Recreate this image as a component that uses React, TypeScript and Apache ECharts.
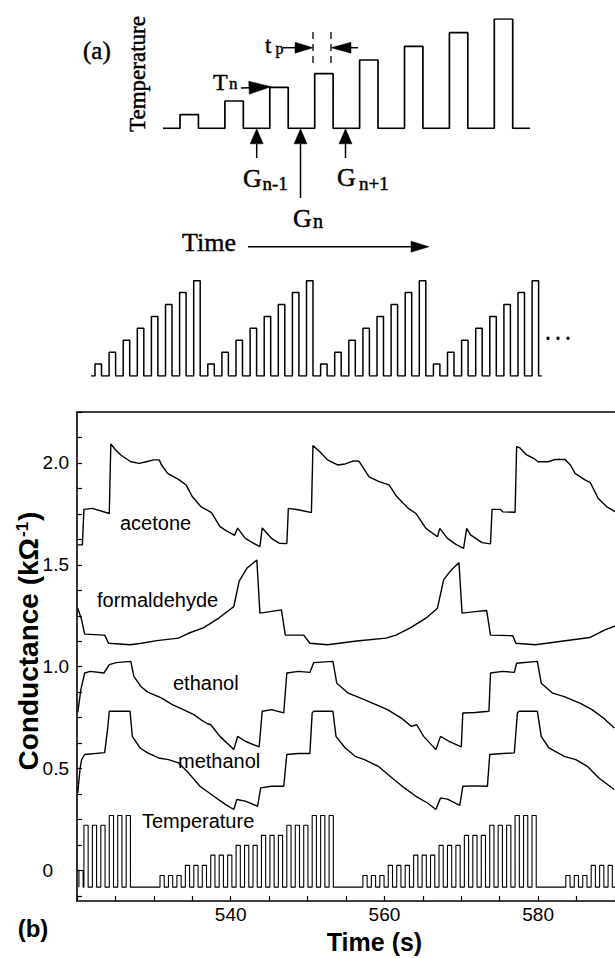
import React, { useEffect, useRef } from 'react';
import * as echarts from 'echarts';

// ---------- panel (b) axes ----------
const timeMin = 520;
const timeMax = 590;
const xTickLabels = [540, 560, 580];
const yTickLabels = [0, 0.5, 1.0, 1.5, 2.0];

// ---------- panel (b) conductance traces [time s, kΩ^-1] ----------
const acetone = [
  [520.1, 1.598], [520.7, 1.598], [520.9, 1.772], [522.0, 1.777], [524.2, 1.752], [524.4, 2.093],
  [525.0, 2.065], [525.7, 2.039], [527.0, 2.006], [528.1, 1.998], [529.0, 2.006], [530.0, 2.015],
  [530.7, 2.015], [531.0, 1.99], [531.8, 1.949], [533.3, 1.917], [534.2, 1.892], [535.0, 1.835],
  [536.1, 1.786], [537.5, 1.756], [538.6, 1.687], [539.5, 1.665], [540.5, 1.645], [540.9, 1.68],
  [541.9, 1.63], [543.0, 1.605], [543.8, 1.589], [544.1, 1.681], [545.3, 1.63], [546.3, 1.606],
  [547.3, 1.604], [547.5, 1.777], [548.8, 1.77], [550.5, 1.756], [550.7, 2.085], [551.6, 2.055],
  [552.6, 2.015], [553.9, 1.99], [554.9, 1.995], [556.0, 2.01], [556.7, 2.008], [558.0, 1.932],
  [559.3, 1.908], [560.6, 1.892], [561.6, 1.835], [563.1, 1.777], [564.1, 1.752], [565.4, 1.679],
  [566.9, 1.638], [567.2, 1.679], [568.2, 1.63], [569.3, 1.6], [570.3, 1.581], [570.7, 1.679],
  [571.2, 1.647], [572.7, 1.609], [573.8, 1.603], [574.0, 1.772], [575.1, 1.772], [575.4, 1.76],
  [577.0, 1.758], [577.2, 2.08], [577.6, 2.075], [578.5, 2.039], [579.4, 2.023], [580.0, 2.006],
  [581.3, 2.006], [582.2, 2.017], [583.5, 2.017], [584.2, 1.99], [584.8, 1.949], [586.1, 1.917],
  [586.8, 1.903], [587.8, 1.827], [588.9, 1.786], [590.0, 1.761],
];
const formaldehyde = [
  [520.1, 1.287], [520.6, 1.23], [521.0, 1.16], [523.6, 1.155], [524.1, 1.115], [526.9, 1.108],
  [528.4, 1.115], [530.4, 1.128], [533.2, 1.14], [534.5, 1.164], [536.5, 1.192], [538.5, 1.24],
  [540.4, 1.295], [541.1, 1.42], [542.1, 1.483], [543.4, 1.524], [543.8, 1.263], [545.1, 1.27],
  [546.6, 1.279], [547.1, 1.155], [549.5, 1.155], [550.3, 1.115], [552.6, 1.108], [554.1, 1.115],
  [556.4, 1.126], [560.2, 1.14], [561.5, 1.155], [563.3, 1.189], [565.4, 1.238], [566.9, 1.287],
  [567.7, 1.426], [568.7, 1.475], [569.7, 1.511], [570.1, 1.263], [571.8, 1.27], [573.3, 1.276],
  [573.8, 1.155], [576.7, 1.152], [577.1, 1.115], [579.6, 1.108], [581.1, 1.115], [586.7, 1.143],
  [588.7, 1.181], [590.0, 1.2],
];
const ethanol = [
  [520.1, 0.775], [520.5, 0.887], [521.0, 0.969], [521.7, 0.977], [523.5, 0.969], [524.2, 1.01],
  [525.1, 1.02], [527.0, 1.026], [527.4, 0.952], [528.3, 0.903], [529.2, 0.875], [530.9, 0.848],
  [532.4, 0.814], [533.7, 0.792], [535.2, 0.765], [536.3, 0.735], [537.0, 0.72], [537.4, 0.715],
  [538.6, 0.658], [540.4, 0.593], [540.9, 0.658], [541.9, 0.634], [543.7, 0.606], [544.1, 0.781],
  [545.3, 0.789], [546.9, 0.773], [547.3, 0.969], [548.8, 0.977], [550.3, 0.972], [550.8, 1.02],
  [553.3, 1.026], [553.8, 0.919], [555.3, 0.87], [556.9, 0.846], [558.9, 0.814], [560.4, 0.789],
  [562.2, 0.748], [563.5, 0.707], [564.2, 0.715], [565.1, 0.658], [566.7, 0.593], [567.3, 0.658],
  [568.4, 0.634], [570.0, 0.606], [570.2, 0.773], [571.8, 0.775], [573.6, 0.781], [573.8, 0.969],
  [575.4, 0.977], [576.9, 0.972], [577.2, 1.017], [579.9, 1.026], [580.4, 0.919], [581.9, 0.87],
  [583.4, 0.853], [585.5, 0.82], [587.0, 0.789], [588.5, 0.748], [589.9, 0.699],
];
const methanol = [
  [520.1, 0.38], [520.4, 0.5], [520.6, 0.544], [521.0, 0.569], [523.6, 0.578], [524.0, 0.7],
  [524.2, 0.781], [526.9, 0.781], [527.2, 0.658], [528.2, 0.601], [529.2, 0.577], [530.6, 0.552],
  [531.9, 0.544], [533.2, 0.528], [534.5, 0.479], [536.0, 0.413], [537.8, 0.364], [539.3, 0.324],
  [540.4, 0.299], [540.8, 0.348], [541.9, 0.34], [543.5, 0.315], [543.9, 0.405], [545.3, 0.413],
  [546.9, 0.413], [547.3, 0.569], [548.8, 0.574], [550.3, 0.574], [550.6, 0.773], [550.8, 0.781],
  [553.3, 0.781], [553.7, 0.658], [554.9, 0.601], [556.2, 0.56], [557.4, 0.544], [559.2, 0.511],
  [561.0, 0.454], [562.6, 0.405], [564.1, 0.364], [565.6, 0.331], [566.7, 0.299], [567.3, 0.356],
  [568.2, 0.35], [569.8, 0.319], [570.2, 0.413], [571.8, 0.415], [573.4, 0.413], [573.7, 0.569],
  [575.4, 0.574], [576.9, 0.577], [577.3, 0.773], [577.5, 0.781], [579.9, 0.781], [580.4, 0.658],
  [581.4, 0.601], [583.4, 0.56], [584.9, 0.544], [586.4, 0.511], [587.9, 0.454], [589.9, 0.397],
];

// ---------- panel (b) temperature programme ----------
const tempBase = -0.082;
const tempLead = [520.25, 520.8, 0.0]; // partial pulse at the start of the record: on, off, level
const tempLevels = [-0.025, 0.025, 0.075, 0.123, 0.172, 0.222, 0.27];
const slotOneStarts = [504.4, 530.8, 557.2, 583.6];
const slotLength = 3.3;
const pulsePeriod = 1.1;
const pulseOn = 0.55;
const pulsesPerSlot = 3;

// ---------- panel (a) schematic ----------
const schematicLevels = [1, 2, 3, 4, 5, 6, 7, 8];
const schematicPulseWidth = 0.41;
const schematicRange = [-0.379, 7.795];
const trainLevels = [1, 2, 3, 4, 5, 6, 7, 8];
const trainCycles = 4;
const trainPulseWidth = 0.46;
const trainRange = [-0.284, 31.68];

function buildTemperature() {
  const pts: number[][] = [
    [tempLead[0], tempBase], [tempLead[0], tempLead[2]], [tempLead[1], tempLead[2]], [tempLead[1], tempBase],
  ];
  for (const s1 of slotOneStarts) {
    tempLevels.forEach((lvl, k) => {
      const slotStart = s1 + k * slotLength;
      for (let i = 0; i < pulsesPerSlot; i++) {
        const on = slotStart + i * pulsePeriod;
        const off = on + pulseOn;
        if (on < tempLead[1] || on > timeMax) continue;
        pts.push([on, tempBase], [on, lvl], [off, lvl], [off, tempBase]);
      }
    });
  }
  pts.push([timeMax, tempBase]);
  return pts;
}

function buildSquare(levels: number[], repeats: number, width: number, range: number[]) {
  const pts: number[][] = [[range[0], 0]];
  let k = 0;
  for (let r = 0; r < repeats; r++) {
    for (const lvl of levels) {
      pts.push([k, 0], [k, lvl], [k + width, lvl], [k + width, 0]);
      k++;
    }
  }
  pts.push([range[1], 0]);
  return pts;
}

const SERIF = 'Liberation Serif, Times New Roman, serif';
const SANS = 'Liberation Sans, Arial, Helvetica, sans-serif';

function txt(x: number, y: number, text: string, size: number, family: string, opts: any = {}) {
  return {
    type: 'text',
    x,
    y,
    rotation: opts.rotation || 0,
    silent: true,
    style: {
      text,
      fontSize: size,
      fontFamily: family,
      fontWeight: opts.bold ? 'bold' : 'normal',
      fill: '#000',
      stroke: opts.heavy ? '#000' : undefined,
      lineWidth: opts.heavy ? 0.45 : 0,
      align: opts.align || 'left',
      textAlign: opts.align || 'left',
      verticalAlign: 'middle',
      textVerticalAlign: 'middle',
      rich: opts.rich,
    },
  };
}

function arrow(x1: number, y1: number, x2: number, y2: number, hl: number, hw: number) {
  const dx = x2 - x1;
  const dy = y2 - y1;
  const L = Math.hypot(dx, dy);
  const ux = dx / L;
  const uy = dy / L;
  const bx = x2 - ux * hl;
  const by = y2 - uy * hl;
  const px = -uy * hw;
  const py = ux * hw;
  return [
    { type: 'line', silent: true, shape: { x1, y1, x2: bx, y2: by }, style: { stroke: '#000', lineWidth: 1.5 } },
    {
      type: 'polygon',
      silent: true,
      shape: { points: [[x2, y2], [bx + px, by + py], [bx - px, by - py]] },
      style: { fill: '#000', stroke: '#000', lineWidth: 0.5 },
    },
  ];
}

export default function App() {
  const ref = useRef<HTMLDivElement>(null);

  useEffect(() => {
    if (!ref.current) return;
    const chart = echarts.init(ref.current, undefined, { renderer: 'svg' });
    const curve = (name: string, data: number[][], width = 1.4) => ({
      name,
      type: 'line',
      xAxisIndex: 0,
      yAxisIndex: 0,
      data,
      showSymbol: false,
      symbol: 'none',
      lineStyle: { color: '#000', width },
      silent: true,
    });

    const yTicks: number[] = [];
    for (let v = -0.125; v <= 2.25 + 1e-9; v += 0.125) yTicks.push(+v.toFixed(3));
    const xTicks: number[] = [];
    for (let t = timeMin; t <= timeMax; t += 5) xTicks.push(t);

    const H = { heavy: true };
    const graphic: any[] = [
      // panel (a)
      txt(83, 50, '(a)', 25, SERIF, H),
      txt(137.5, 74, 'Temperature', 23, SERIF, { align: 'center', rotation: Math.PI / 2, heavy: true }),
      txt(265, 45.5, 't', 23, SERIF, H),
      txt(275.5, 48.7, 'p', 16, SERIF, H),
      txt(213, 81.8, 'T', 24, SERIF, H),
      txt(229, 83.7, 'n', 17, SERIF, H),
      txt(243, 178, 'G', 26, SERIF, H),
      txt(262.5, 183.5, 'n-1', 19, SERIF, H),
      txt(293, 218, 'G', 26, SERIF, H),
      txt(313, 220.7, 'n', 20, SERIF, H),
      txt(337, 177, 'G', 26, SERIF, H),
      txt(359, 183.5, 'n+1', 19, SERIF, H),
      txt(182, 242.7, 'Time', 26, SERIF, H),
      ...arrow(283, 47.7, 313, 47.7, 18, 5.5),
      ...arrow(358, 47.7, 331, 47.7, 20, 5.5),
      ...arrow(241, 88, 271, 86.7, 22, 6.5),
      ...arrow(256.7, 158, 256.7, 128.8, 15, 6.5),
      ...arrow(300.5, 198, 300.5, 128.8, 15, 6.5),
      ...arrow(345.5, 158, 345.5, 128.8, 15, 6.5),
      ...arrow(248, 246.7, 429, 246.7, 18, 5.5),
      { type: 'line', silent: true, shape: { x1: 313, y1: 32, x2: 313, y2: 67 }, style: { stroke: '#000', lineWidth: 1.3, lineDash: [7, 5] } },
      { type: 'line', silent: true, shape: { x1: 331, y1: 32, x2: 331, y2: 67 }, style: { stroke: '#000', lineWidth: 1.3, lineDash: [7, 5] } },
      { type: 'circle', silent: true, shape: { cx: 548, cy: 338.3, r: 1.7 }, style: { fill: '#000' } },
      { type: 'circle', silent: true, shape: { cx: 558, cy: 338.3, r: 1.7 }, style: { fill: '#000' } },
      { type: 'circle', silent: true, shape: { cx: 568, cy: 338.3, r: 1.7 }, style: { fill: '#000' } },
      // panel (b) labels
      txt(120, 523, 'acetone', 20, SANS),
      txt(97, 600, 'formaldehyde', 20, SANS),
      txt(173, 683, 'ethanol', 20, SANS),
      txt(178, 761, 'methanol', 20, SANS),
      txt(142, 821.3, 'Temperature', 20, SANS),
      txt(374.5, 942.3, 'Time (s)', 25, SANS, { align: 'center', bold: true }),
      txt(33, 928, '(b)', 24, SANS, { align: 'center', bold: true }),
      txt(28, 641, 'Conductance (kΩ{sup|-1})', 28, SANS, {
        align: 'center',
        bold: true,
        rotation: Math.PI / 2,
        rich: { sup: { fontSize: 17, fontWeight: 'bold', fontFamily: SANS, fill: '#000', verticalAlign: 'top', padding: [0, 1, 10, 1] } },
      }),
    ];

    chart.setOption({
      animation: false,
      backgroundColor: '#fff',
      grid: [
        { left: 77, top: 412, width: 538, height: 489 },
        { left: 163, top: 19, width: 367, height: 109.3 },
        { left: 91, top: 280.7, width: 450.7, height: 95.3 },
      ],
      xAxis: [
        {
          type: 'value',
          gridIndex: 0,
          min: timeMin,
          max: timeMax,
          interval: 20,
          axisLine: { show: true, onZero: false, lineStyle: { color: '#000', width: 1.6 } },
          axisTick: { show: true, inside: true, length: 5, customValues: xTicks, lineStyle: { color: '#000', width: 1.2 } },
          axisLabel: {
            show: true,
            customValues: xTickLabels,
            margin: 4,
            color: '#000',
            fontSize: 19,
            fontFamily: SANS,
          },
          splitLine: { show: false },
        },
        {
          type: 'value',
          gridIndex: 0,
          position: 'top',
          min: timeMin,
          max: timeMax,
          axisLine: { show: true, onZero: false, lineStyle: { color: '#000', width: 1.6 } },
          axisTick: { show: false },
          axisLabel: { show: false },
          splitLine: { show: false },
        },
        { type: 'value', gridIndex: 1, min: schematicRange[0], max: schematicRange[1], show: false },
        { type: 'value', gridIndex: 2, min: trainRange[0], max: trainRange[1], show: false },
      ],
      yAxis: [
        {
          type: 'value',
          gridIndex: 0,
          min: -0.15,
          max: 2.25,
          axisLine: { show: true, onZero: false, lineStyle: { color: '#000', width: 1.6 } },
          axisTick: { show: true, inside: true, length: 5, customValues: yTicks, lineStyle: { color: '#000', width: 1.2 } },
          axisLabel: {
            show: true,
            customValues: yTickLabels,
            margin: 8,
            color: '#000',
            fontSize: 19,
            fontFamily: SANS,
            formatter: (v: number) => (v === 0 ? '{z|0}' : v.toFixed(1)),
            rich: { z: { fontSize: 19, fontFamily: SANS, color: '#000', padding: [0, 16, 0, 0] } },
          },
          splitLine: { show: false },
        },
        { type: 'value', gridIndex: 1, min: 0, max: 8, show: false },
        { type: 'value', gridIndex: 2, min: 0, max: 8, show: false },
      ],
      series: [
        curve('acetone', acetone),
        curve('formaldehyde', formaldehyde),
        curve('ethanol', ethanol),
        curve('methanol', methanol),
        curve('Temperature', buildTemperature(), 1.1),
        {
          name: 'schematic',
          type: 'line',
          xAxisIndex: 2,
          yAxisIndex: 1,
          data: buildSquare(schematicLevels, 1, schematicPulseWidth, schematicRange),
          showSymbol: false,
          symbol: 'none',
          lineStyle: { color: '#000', width: 1.7 },
          silent: true,
        },
        {
          name: 'train',
          type: 'line',
          xAxisIndex: 3,
          yAxisIndex: 2,
          data: buildSquare(trainLevels, trainCycles, trainPulseWidth, trainRange),
          showSymbol: false,
          symbol: 'none',
          lineStyle: { color: '#000', width: 1.5 },
          silent: true,
        },
      ],
      graphic,
    });
    return () => chart.dispose();
  }, []);

  return (
    <div
      ref={ref}
      style={{ position: 'absolute', left: 0, top: 0, width: 615, height: 958, background: '#fff' }}
    />
  );
}
